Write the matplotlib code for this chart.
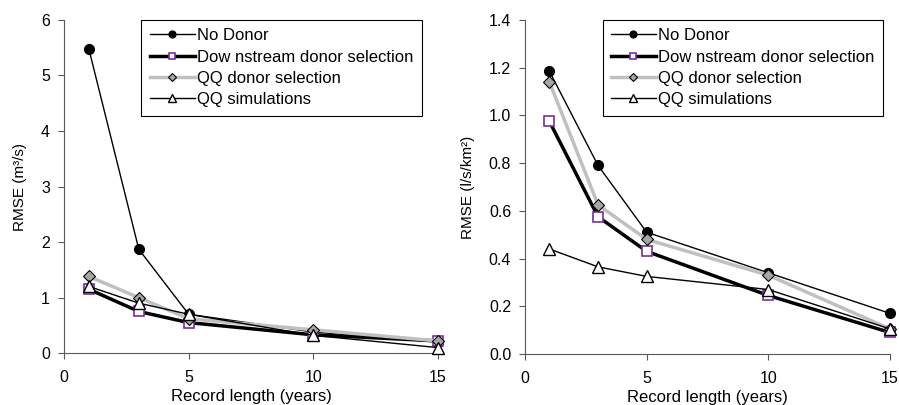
import matplotlib.pyplot as plt

plt.rcParams["font.family"] = ["Liberation Sans", "DejaVu Sans"]
plt.rcParams["font.size"] = 11

years = [1, 3, 5, 10, 15]
labels = ["No Donor", "Dow nstream donor selection", "QQ donor selection", "QQ simulations"]

# left panel, RMSE in m3/s
left_no_donor = [5.47, 1.87, 0.70, 0.38, 0.20]
left_downstream = [1.15, 0.75, 0.55, 0.33, 0.22]
left_qq_donor = [1.38, 1.00, 0.62, 0.42, 0.22]
left_qq_sim = [1.20, 0.90, 0.70, 0.32, 0.10]

# right panel, RMSE in l/s/km2
right_no_donor = [1.185, 0.79, 0.51, 0.34, 0.17]
right_downstream = [0.975, 0.575, 0.43, 0.245, 0.09]
right_qq_donor = [1.14, 0.625, 0.48, 0.33, 0.105]
right_qq_sim = [0.44, 0.365, 0.325, 0.27, 0.105]

styles = [
    dict(color="black", lw=1.0, marker="o", ms=7, mfc="black", mec="black"),
    dict(color="black", lw=2.5, marker="s", ms=7, mfc="white", mec="#7B2C9E", mew=1.2),
    dict(color="#C0C0C0", lw=2.5, marker="D", ms=6, mfc="#A6A6A6", mec="black", mew=0.8),
    dict(color="black", lw=1.0, marker="^", ms=8, mfc="white", mec="black", mew=1.0),
]


def draw_panel(ax, series, ylim, yticks, yfmt, ylabel, legend_right):
    for values, label, style in zip(series, labels, styles):
        ax.plot(years, values, label=label, clip_on=False, zorder=3, **style)
    ax.set_xlim(0, 15)
    ax.set_ylim(*ylim)
    ax.set_xticks([0, 5, 10, 15])
    ax.set_yticks(yticks)
    ax.set_yticklabels([yfmt.format(v) for v in yticks])
    for side in ("top", "right"):
        ax.spines[side].set_visible(False)
    for side in ("left", "bottom"):
        ax.spines[side].set_color("#595959")
    ax.tick_params(direction="out", length=4, color="#595959", labelsize=11.5, pad=6)
    ax.tick_params(axis="x", pad=8)
    ax.set_xlabel("Record length (years)", fontsize=12, labelpad=3)
    ax.set_ylabel(ylabel, fontsize=11, labelpad=10)
    leg = ax.legend(loc="upper right", bbox_to_anchor=(legend_right, 1.0), fancybox=False,
                    edgecolor="black", framealpha=1, fontsize=12, handlelength=2.7,
                    labelspacing=0.38, borderpad=0.5, handletextpad=0.15,
                    borderaxespad=0.0, markerscale=0.7)
    leg.get_frame().set_linewidth(0.8)


fig = plt.figure(figsize=(8.99, 4.05), dpi=100)
ax1 = fig.add_axes([0.0712, 0.128, 0.416, 0.823])
ax2 = fig.add_axes([0.584, 0.126, 0.406, 0.825])

draw_panel(ax1, [left_no_donor, left_downstream, left_qq_donor, left_qq_sim],
           (0, 6), [0, 1, 2, 3, 4, 5, 6], "{:.0f}", "RMSE (m³/s)", 0.957)
draw_panel(ax2, [right_no_donor, right_downstream, right_qq_donor, right_qq_sim],
           (0, 1.4), [0.0, 0.2, 0.4, 0.6, 0.8, 1.0, 1.2, 1.4], "{:.1f}", "RMSE (l/s/km²)", 0.981)

fig.savefig("out.png", dpi=100)
